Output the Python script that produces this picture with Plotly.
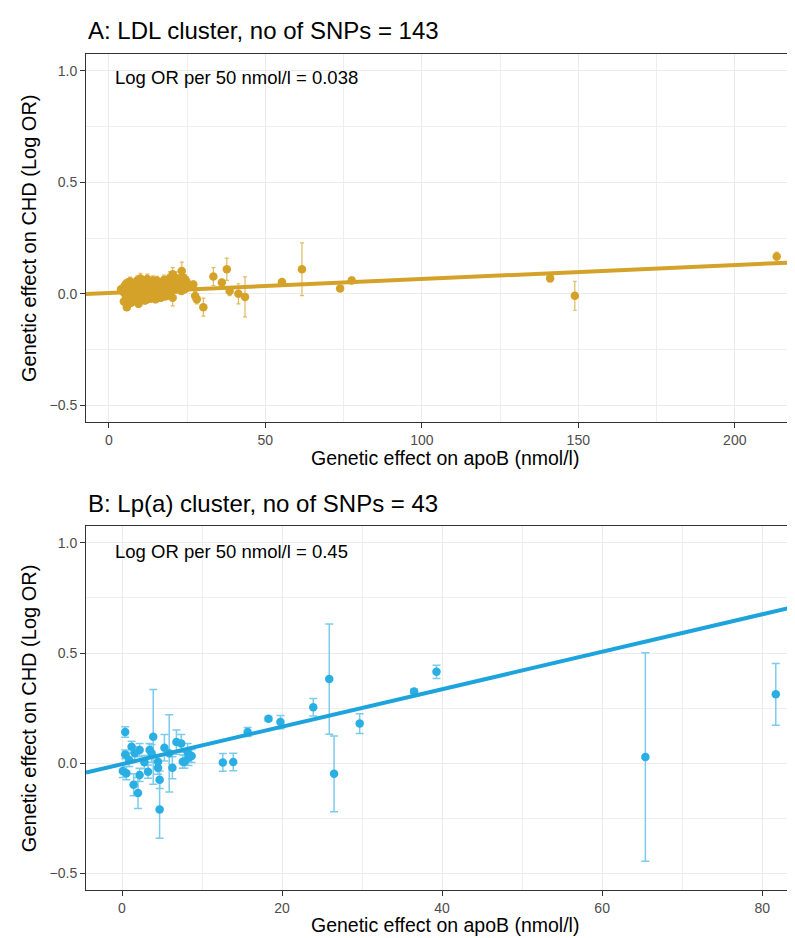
import plotly.graph_objects as go

# ---------------- Panel A data (LDL cluster) ----------------
xA_cluster = [5.1, 5.4, 5.8, 6.0, 6.3, 6.6, 6.9, 7.2, 7.5, 7.8,
              4.6, 5.0, 5.6, 6.1, 6.5, 7.0, 7.4, 7.9, 8.3, 8.7,
              8.1, 8.5, 8.9, 9.2, 9.6, 10.0, 10.4, 10.8, 11.2, 11.6,
              9.0, 9.4, 9.8, 10.2, 10.6, 11.0, 11.4, 11.8, 12.2, 12.6,
              12.0, 12.4, 12.9, 13.3, 13.7, 14.1, 14.5, 14.9, 15.3, 15.7,
              13.0, 13.5, 14.0, 14.6, 15.1, 15.6, 16.1, 16.6, 17.1, 17.6,
              16.2, 16.8, 17.4, 18.0, 18.6, 19.2, 19.8, 20.4, 21.0, 21.6,
              18.3, 19.0, 19.7, 20.5, 21.3, 22.1, 22.9, 23.6, 24.2, 24.8,
              4.8, 5.3, 5.9, 6.4, 7.1, 7.7, 8.4, 9.1, 9.9, 10.7,
              11.5, 12.3, 13.2, 14.3, 15.4, 16.5, 17.8, 19.5, 21.8, 23.2,
              5.2, 6.2, 7.3, 8.6, 10.1, 11.9, 13.8, 6.8, 9.5, 12.8, 3.9,
              25.0, 22.5, 20.0, 17.0, 14.8, 11.3, 8.0, 6.7, 5.5, 4.4]
yA_cluster = [0.012, -0.008, 0.025, 0.004, 0.031, -0.015, 0.018, 0.040, -0.004, 0.022,
              0.008, 0.035, -0.020, 0.015, 0.045, 0.002, -0.028, 0.028, 0.010, 0.038,
              -0.012, 0.020, 0.050, 0.006, -0.022, 0.030, 0.014, 0.042, -0.006, 0.024,
              0.033, -0.030, 0.018, 0.055, 0.000, 0.026, -0.016, 0.036, 0.012, 0.048,
              0.020, 0.005, 0.040, -0.010, 0.030, 0.060, 0.015, -0.025, 0.035, 0.022,
              0.045, 0.010, -0.005, 0.028, 0.052, 0.018, 0.038, -0.018, 0.025, 0.062,
              0.008, 0.034, 0.050, -0.012, 0.022, 0.044, 0.014, 0.058, 0.030, 0.070,
              0.040, -0.008, 0.026, 0.065, 0.018, 0.048, 0.035, 0.075, 0.020, 0.055,
              -0.035, 0.028, -0.018, 0.046, -0.040, 0.016, -0.025, 0.060, -0.010, 0.052,
              -0.030, 0.066, -0.022, 0.008, 0.058, -0.014, 0.030, 0.072, 0.044, 0.012,
              0.003, 0.050, -0.036, 0.026, 0.068, -0.028, 0.040, 0.055, -0.045, 0.015, 0.020,
              0.030, 0.060, 0.025, 0.010, -0.020, 0.052, -0.032, 0.002, 0.045, 0.018]
eA_cluster = [0.012, 0.010, 0.015, 0.011, 0.013, 0.010, 0.012, 0.016, 0.011, 0.012,
              0.014, 0.012, 0.013, 0.010, 0.015, 0.011, 0.014, 0.012, 0.010, 0.013,
              0.011, 0.012, 0.016, 0.010, 0.013, 0.012, 0.011, 0.014, 0.010, 0.012,
              0.013, 0.015, 0.011, 0.018, 0.010, 0.012, 0.013, 0.014, 0.011, 0.016,
              0.012, 0.011, 0.014, 0.013, 0.012, 0.020, 0.011, 0.015, 0.013, 0.012,
              0.016, 0.011, 0.012, 0.013, 0.018, 0.012, 0.014, 0.015, 0.012, 0.022,
              0.012, 0.014, 0.018, 0.013, 0.012, 0.016, 0.011, 0.024, 0.014, 0.028,
              0.016, 0.012, 0.013, 0.025, 0.012, 0.020, 0.015, 0.030, 0.013, 0.022,
              0.015, 0.012, 0.014, 0.016, 0.015, 0.011, 0.013, 0.020, 0.012, 0.018,
              0.014, 0.022, 0.013, 0.011, 0.020, 0.012, 0.014, 0.026, 0.018, 0.012,
              0.011, 0.018, 0.015, 0.013, 0.024, 0.014, 0.016, 0.020, 0.016, 0.012, 0.013,
              0.018, 0.025, 0.014, 0.012, 0.013, 0.020, 0.015, 0.011, 0.016, 0.012]
xA_out = [5.75, 20.4, 23.3, 24.4, 20.4, 27.0, 27.6, 28.1, 30.2, 33.4, 36.1,
          37.7, 38.6, 41.4, 43.5, 55.3, 61.7, 73.9, 77.6, 141.0, 148.9, 213.4]
yA_out = [-0.060, 0.087, 0.102, 0.064, -0.018, 0.042, -0.010, -0.025, -0.060, 0.077, 0.050,
          0.110, 0.012, 0.000, -0.014, 0.053, 0.110, 0.024, 0.060, 0.069, -0.009, 0.167]
eA_out = [0.015, 0.030, 0.040, 0.020, 0.036, 0.015, 0.020, 0.020, 0.040, 0.040, 0.015,
          0.050, 0.020, 0.045, 0.090, 0.010, 0.118, 0.012, 0.015, 0.015, 0.065, 0.020]
xA = xA_cluster + xA_out
yA = yA_cluster + yA_out
eA = eA_cluster + eA_out
slopeA, interceptA = 0.00063, 0.003

# ---------------- Panel B data (Lp(a) cluster) ----------------
xB = [0.4, 0.4, 0.1, 0.55, 1.2, 1.6, 2.2, 1.45, 2.0, 2.2, 3.25, 3.45, 3.9, 3.7,
      4.5, 4.7, 4.5, 4.7, 5.9, 6.8, 7.4, 7.8, 8.2, 8.7, 7.6, 12.6, 13.9,
      15.7, 18.3, 19.8, 23.9, 25.9, 26.5, 29.7, 36.5, 39.3, 65.4, 81.7,
      5.3, 6.3, 0.9, 2.8, 8.3]
yB = [0.142, 0.040, -0.035, -0.045, 0.075, 0.045, 0.060, -0.097, -0.135, -0.053, -0.038, 0.060, 0.120, 0.045,
      0.007, -0.075, -0.020, -0.210, 0.045, 0.096, 0.090, 0.007, 0.050, 0.033, 0.007, 0.004, 0.006,
      0.142, 0.202, 0.187, 0.254, 0.382, -0.048, 0.180, 0.326, 0.415, 0.028, 0.313,
      0.070, -0.020, 0.015, 0.005, 0.025]
eB = [0.024, 0.020, 0.030, 0.030, 0.025, 0.030, 0.030, 0.050, 0.070, 0.030, 0.030, 0.030, 0.215, 0.040,
      0.030, 0.040, 0.030, 0.130, 0.175, 0.055, 0.040, 0.030, 0.040, 0.030, 0.030, 0.040, 0.040,
      0.020, 0.010, 0.030, 0.040, 0.250, 0.172, 0.045, 0.010, 0.030, 0.473, 0.140,
      0.060, 0.050, 0.030, 0.030, 0.035]
slopeB, interceptB = 0.0085, -0.004

titleA = "A: LDL cluster, no of SNPs = 143"
titleB = "B: Lp(a) cluster, no of SNPs = 43"
noteA = "Log OR per 50 nmol/l = 0.038"
noteB = "Log OR per 50 nmol/l = 0.45"
xlab = "Genetic effect on apoB (nmol/l)"
ylab = "Genetic effect on CHD (Log OR)"

xrangeA = [-7.3, 221.8]
xrangeB = [-4.5, 85.1]
yrange = [-0.575, 1.075]

GOLD = "#D5A229"
GOLD_ERR = "#E0BA62"
BLUE = "#2AAFE4"
BLUE_ERR = "#7CCBEC"
BLUE_LINE = "#1DA4DD"
FONT = "Liberation Sans"

fig = go.Figure()

fig.add_trace(go.Scatter(
    x=xA, y=yA, mode="markers", xaxis="x", yaxis="y",
    marker=dict(color=GOLD, size=8.5, line=dict(width=0)),
    error_y=dict(type="data", array=eA, visible=True, color=GOLD_ERR, thickness=1.2, width=2),
    showlegend=False, hoverinfo="skip"))
fig.add_trace(go.Scatter(
    x=xrangeA, y=[slopeA * v + interceptA for v in xrangeA], mode="lines",
    xaxis="x", yaxis="y", line=dict(color=GOLD, width=4), showlegend=False, hoverinfo="skip"))

fig.add_trace(go.Scatter(
    x=xB, y=yB, mode="markers", xaxis="x2", yaxis="y2",
    marker=dict(color=BLUE, size=8.5, line=dict(width=0)),
    error_y=dict(type="data", array=eB, visible=True, color=BLUE_ERR, thickness=1.5, width=4),
    showlegend=False, hoverinfo="skip"))
fig.add_trace(go.Scatter(
    x=xrangeB, y=[slopeB * v + interceptB for v in xrangeB], mode="lines",
    xaxis="x2", yaxis="y2", line=dict(color=BLUE_LINE, width=4), showlegend=False, hoverinfo="skip"))

axis_common = dict(
    showline=True, mirror=True, linecolor="#333333", linewidth=1,
    ticks="outside", tickcolor="#333333", ticklen=5, tickwidth=1,
    showgrid=True, gridcolor="#EBEBEB", gridwidth=1.1, zeroline=False,
    tickfont=dict(family=FONT, size=14, color="#4D4D4D"),
)
minor_grid = dict(showgrid=True, gridcolor="#EEEEEE", gridwidth=0.6)

fig.update_layout(
    width=795, height=938,
    margin=dict(l=78, r=0, t=46, b=56),
    paper_bgcolor="white", plot_bgcolor="white",
    font=dict(family=FONT, color="black"),
    xaxis=dict(domain=[0, 1], range=xrangeA, dtick=50, tick0=0, anchor="y",
               minor=dict(dtick=25, **minor_grid), **axis_common),
    yaxis=dict(domain=[0.5598, 1.0], range=yrange, dtick=0.5, tick0=0, tickformat=".1f", anchor="x",
               minor=dict(dtick=0.25, **minor_grid), **axis_common),
    xaxis2=dict(domain=[0, 1], range=xrangeB, dtick=20, tick0=0, anchor="y2",
                minor=dict(dtick=10, **minor_grid), **axis_common),
    yaxis2=dict(domain=[0, 0.4350], range=yrange, dtick=0.5, tick0=0, tickformat=".1f", anchor="x2",
                minor=dict(dtick=0.25, **minor_grid), **axis_common),
)

ann = []
def add_text(text, x, y, size, xanchor="left", angle=0):
    ann.append(dict(text=text, x=x, y=y, xref="paper", yref="paper", xanchor=xanchor,
                    yanchor="middle", showarrow=False, textangle=angle,
                    font=dict(family=FONT, size=size, color="black")))

add_text(titleA, 0.0, 1.0287, 24)
add_text(titleB, 0.0, 0.4629, 24)
add_text(noteA, 0.0377, 0.9713, 18.5)
add_text(noteB, 0.0377, 0.4055, 18.5)
add_text(xlab, 0.5, 0.5167, 19.5, xanchor="center")
add_text(xlab, 0.5, -0.0419, 19.5, xanchor="center")
add_text(ylab, -0.0795, 0.7799, 20, xanchor="center", angle=-90)
add_text(ylab, -0.0795, 0.2175, 20, xanchor="center", angle=-90)
fig.update_layout(annotations=ann)

fig.write_html("out.html")
